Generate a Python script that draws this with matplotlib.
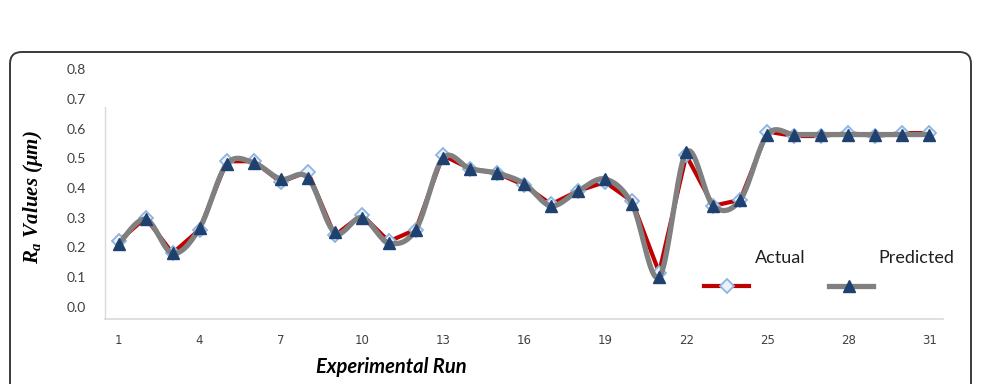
import numpy as np
import matplotlib
matplotlib.use("Agg")
import matplotlib.pyplot as plt
from matplotlib.patches import FancyBboxPatch
from matplotlib.lines import Line2D

runs = list(range(1, 32))
actual = [0.22, 0.30, 0.18, 0.26, 0.49, 0.49, 0.42, 0.455, 0.24, 0.31, 0.22, 0.26,
          0.51, 0.465, 0.45, 0.41, 0.345, 0.39, 0.42, 0.355, 0.115, 0.51, 0.34, 0.36,
          0.59, 0.575, 0.575, 0.585, 0.575, 0.585, 0.585]
predicted = [0.21, 0.295, 0.18, 0.265, 0.48, 0.485, 0.43, 0.435, 0.25, 0.30, 0.215, 0.26,
             0.50, 0.465, 0.45, 0.415, 0.34, 0.39, 0.43, 0.345, 0.10, 0.52, 0.34, 0.36,
             0.58, 0.58, 0.58, 0.58, 0.58, 0.58, 0.58]
series_names = ["Actual", "Predicted"]
xticks = [1, 4, 7, 10, 13, 16, 19, 22, 25, 28, 31]
yticks = [0.0, 0.1, 0.2, 0.3, 0.4, 0.5, 0.6, 0.7, 0.8]


def excel_smooth(x, y, n=24):
    """Bezier smoothing like spreadsheet 'smoothed line' (rendering only)."""
    x = np.asarray(x, float)
    y = np.asarray(y, float)
    xs, ys = [x[0]], [y[0]]
    m = len(x)
    for i in range(m - 1):
        p0 = np.array([x[max(i - 1, 0)], y[max(i - 1, 0)]])
        p1 = np.array([x[i], y[i]])
        p2 = np.array([x[i + 1], y[i + 1]])
        p3 = np.array([x[min(i + 2, m - 1)], y[min(i + 2, m - 1)]])
        c1 = p1 + (p2 - p0) / 6.0
        c2 = p2 - (p3 - p1) / 6.0
        t = np.linspace(0, 1, n)[1:, None]
        pts = ((1 - t) ** 3) * p1 + 3 * ((1 - t) ** 2) * t * c1 + 3 * (1 - t) * t ** 2 * c2 + t ** 3 * p2
        xs.extend(pts[:, 0])
        ys.extend(pts[:, 1])
    return np.array(xs), np.array(ys)


W, H = 981, 384
fig = plt.figure(figsize=(W / 100, H / 100), dpi=100)
fig.patch.set_facecolor("white")

# rounded border
border = FancyBboxPatch((10 / W, -20 / H), (961) / W, (332 + 20) / H,
                        boxstyle="round,pad=0,rounding_size=0.012",
                        transform=fig.transFigure, facecolor="none",
                        edgecolor="#3a3a3a", linewidth=1.4, mutation_aspect=W / H,
                        zorder=10)
fig.patches.append(border)

ax_left, ax_right = 105, 943
ax_bottom_px = 319
ymin, ymax = -0.0415, 0.82
zero_px = 306.7
px_per_unit = 296.8
ax_top_px = zero_px - ymax * px_per_unit
ax = fig.add_axes([ax_left / W, (H - ax_bottom_px) / H,
                   (ax_right - ax_left) / W, (ax_bottom_px - ax_top_px) / H])
ax.set_facecolor("none")
ax.set_xlim(0.5, 31.5)
ax.set_ylim(ymin, ymax)

red = "#C00000"
gray = "#808080"
navy = "#1F4170"
lightblue = "#8DB4E2"

# Actual: straight red line with diamonds
ax.plot(runs, actual, color=red, lw=3.0, solid_joinstyle="round", zorder=2)
ax.plot(runs, actual, ls="none", marker="D", ms=7.2, mfc="#EAF1FA", mec=lightblue,
        mew=1.3, zorder=3)
# Predicted: smoothed gray line with triangles
sx, sy = excel_smooth(runs, predicted)
ax.plot(sx, sy, color=gray, lw=3.8, solid_capstyle="round", zorder=4)
ax.plot(runs, predicted, ls="none", marker="^", ms=9, mfc=navy, mec=navy, zorder=5)

for s in ["top", "right"]:
    ax.spines[s].set_visible(False)
ax.spines["left"].set_color("#D9D9D9")
ax.spines["bottom"].set_color("#D9D9D9")
ax.spines["left"].set_linewidth(1.0)
ax.spines["bottom"].set_linewidth(1.2)
ax.spines["left"].set_bounds(ymin, 0.673)

ax.set_yticks(yticks)
ax.set_yticklabels([f"{v:.1f}" for v in yticks])
ax.set_xticks(xticks)
ax.set_xticklabels([str(v) for v in xticks])
ax.tick_params(axis="y", length=0, pad=14, labelsize=10, labelcolor="#404040")
ax.tick_params(axis="x", length=0, pad=11, labelsize=8.5, labelcolor="#404040")
for lab in ax.get_yticklabels():
    lab.set_fontfamily(["Lato", "DejaVu Sans"])
for lab in ax.get_xticklabels():
    lab.set_fontfamily(["DejaVu Sans"])

# axis titles
plt.rcParams["mathtext.fontset"] = "custom"
plt.rcParams["mathtext.it"] = "Liberation Serif:bold:italic"
plt.rcParams["mathtext.rm"] = "Liberation Serif:bold:italic"
fig.text(33 / W, (H - 197) / H, r"$R_a$ Values (μm)", rotation=90,
         ha="center", va="center", fontsize=15, fontweight="bold", fontstyle="italic",
         family=["Liberation Serif", "DejaVu Serif"], color="black")
fig.text(391 / W, (H - 367) / H, "Experimental Run", ha="center", va="center",
         fontsize=14.5, fontweight="bold", fontstyle="italic",
         family=["Lato", "DejaVu Sans"], color="black")

# legend (drawn manually: labels above the samples)
def fx(px):
    return px / W

def fy(py):
    return (H - py) / H

fig.lines.append(Line2D([fx(704), fx(749)], [fy(286), fy(286)], color=red, lw=3.0,
                        transform=fig.transFigure))
fig.lines.append(Line2D([fx(727)], [fy(286)], ls="none", marker="D", ms=7.2,
                        mfc="#EAF1FA", mec=lightblue, mew=1.3, transform=fig.transFigure))
fig.lines.append(Line2D([fx(829), fx(873)], [fy(286), fy(286)], color=gray, lw=3.8,
                        transform=fig.transFigure))
fig.lines.append(Line2D([fx(849)], [fy(286)], ls="none", marker="^", ms=9,
                        mfc=navy, mec=navy, transform=fig.transFigure))
fig.text(fx(755), fy(258), series_names[0], ha="left", va="center", fontsize=13,
         family=["Lato", "DejaVu Sans"], color="#202020")
fig.text(fx(878), fy(258), series_names[1], ha="left", va="center", fontsize=13,
         family=["Lato", "DejaVu Sans"], color="#202020")

fig.savefig("out.png", dpi=100, facecolor="white")
